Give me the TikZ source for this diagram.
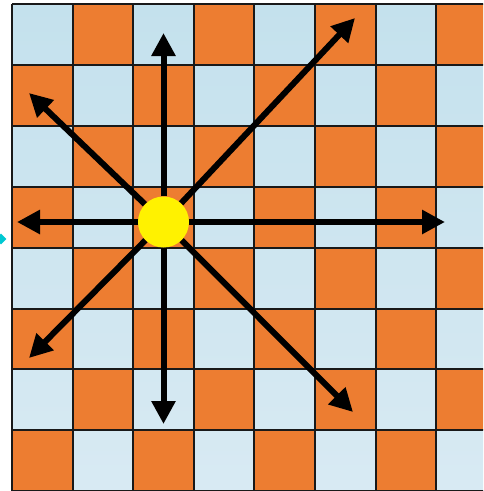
\documentclass[tikz,border=0pt]{standalone}
\usetikzlibrary{arrows.meta, shapes.geometric}
\definecolor{cellblue}{RGB}{196,225,237}
\definecolor{cellblueb}{RGB}{216,234,243}
\definecolor{cellorange}{RGB}{237,125,49}
\definecolor{gridline}{RGB}{25,25,25}
\definecolor{markcyan}{RGB}{0,200,210}

\begin{document}
\begin{tikzpicture}[x=1pt, y=-1pt, >={Triangle[length=23pt, width=23pt]},
    cell/.style={fill=cellorange},
    gridl/.style={draw=gridline, line width=2pt},
    ray/.style={draw=black, ->, line width=6pt},
    sun/.style={circle, fill=yellow, minimum size=51pt, inner sep=0pt},
    cuemark/.style={diamond, fill=markcyan, minimum size=11pt, inner sep=0pt}]
  \useasboundingbox (0,0) rectangle (483,491);
  \clip (0,0) rectangle (483,491);
  \node[cuemark] (cue) at (1,239) {};
  % board
  \shade[top color=cellblue, bottom color=cellblueb] (12,4) rectangle (497,491.2);
  \foreach \c in {0,...,7}
    \foreach \r in {0,...,7} {
      \pgfmathtruncatemacro\odd{mod(\c+\r,2)}
      \ifnum\odd=1
        \fill[cell] (12+60.6*\c,4+60.9*\r) rectangle ++(60.6,60.9);
      \fi
    }
  \foreach \i in {0,...,8} {
    \draw[gridl] (12+60.6*\i,4) -- (12+60.6*\i,491.2);
    \draw[gridl] (12,4+60.9*\i) -- (497,4+60.9*\i);
  }
  % moves
  \node[sun] (sun) at (163.5,222) {};
  \coordinate (n)  at (163.5,33);
  \coordinate (s)  at (163.5,424);
  \coordinate (w)  at (17,222);
  \coordinate (e)  at (445,222);
  \coordinate (nw) at (29,93);
  \coordinate (ne) at (355,18);
  \coordinate (sw) at (29,358);
  \coordinate (se) at (353,412);
  \foreach \t in {n,s,w,e,nw,ne,sw,se}
    \draw[ray] (sun) -- (\t);
\end{tikzpicture}
\end{document}
